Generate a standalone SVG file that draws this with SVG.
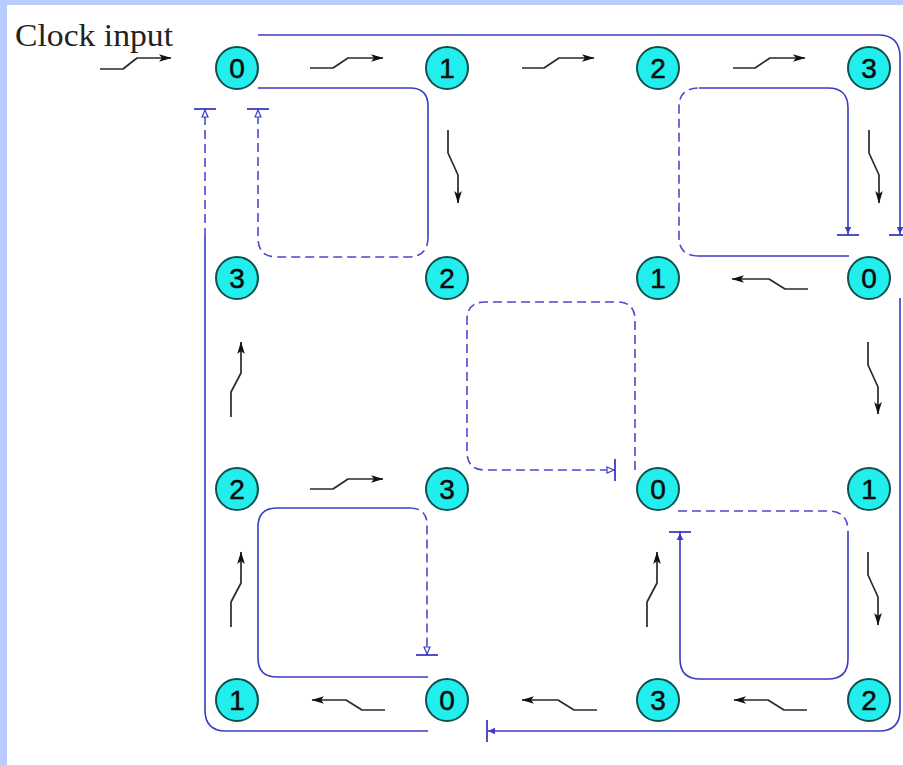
<svg xmlns="http://www.w3.org/2000/svg" width="903" height="765" viewBox="0 0 903 765">
<style>
  .bg { fill: #b8ccff; }
  .paper { fill: #ffffff; }
  .node circle { fill: #22eeee; stroke: #124f4f; stroke-width: 2; }
  .node text { font-family: "Liberation Sans", Arial, sans-serif; font-size: 28px; fill: #0a0a0a; stroke: #0a0a0a; stroke-width: 0.5; text-anchor: middle; }
  .solid { fill: none; stroke: #3b3bc4; stroke-width: 1.6; }
  .dash { fill: none; stroke: #4a4acc; stroke-width: 1.6; stroke-dasharray: 9 5; }
  .sw { fill: none; stroke: #2a2a2a; stroke-width: 1.7; stroke-linejoin: round; }
  .label { font-family: "Liberation Serif", "Times New Roman", serif; font-size: 31px; fill: #222; }
</style>
<defs>
  <marker id="teeSolid" viewBox="0 -12 11 24" refX="10" refY="0" markerWidth="11" markerHeight="24" markerUnits="userSpaceOnUse" orient="auto">
    <path d="M2,-3.2 L9,0 L2,3.2 z" fill="#3b3bc4"/>
    <path d="M10,-11 V11" stroke="#3b3bc4" stroke-width="1.8" fill="none"/>
  </marker>
  <marker id="teeOpen" viewBox="0 -12 11 24" refX="10" refY="0" markerWidth="11" markerHeight="24" markerUnits="userSpaceOnUse" orient="auto">
    <path d="M2,-3 L9,0 L2,3 z" fill="#ffffff" stroke="#3b3bc4" stroke-width="1.2"/>
    <path d="M10,-11 V11" stroke="#3b3bc4" stroke-width="1.8" fill="none"/>
  </marker>
  <marker id="blk" viewBox="0 -4 13 8" refX="12" refY="0" markerWidth="13" markerHeight="8" markerUnits="userSpaceOnUse" orient="auto">
    <path d="M0,-3.8 L12.5,0 L0,3.8 L3,0 z" fill="#111"/>
  </marker>
</defs>

<rect class="bg" x="0" y="0" width="903" height="765"/>
<rect class="paper" x="7" y="5" width="896" height="760"/>

<text class="label" x="15" y="46" textLength="158" lengthAdjust="spacingAndGlyphs">Clock input</text>

<g id="connectors">
  <!-- outer loop -->
  <path class="solid" d="M258,35 H878 Q900,35 900,57 V235" marker-end="url(#teeSolid)"/>
  <path class="solid" d="M900,298 V710 Q900,731 879,731 H487" marker-end="url(#teeSolid)"/>
  <path class="solid" d="M428,731 H226 Q205,731 205,710 V237"/>
  <path class="dash" d="M205,237 V109" marker-end="url(#teeOpen)"/>
  <!-- top-left loop -->
  <path class="solid" d="M258,88 H410 Q428,88 428,106 V237"/>
  <path class="dash" d="M428,237 Q428,257 408,257 H277 Q258,257 258,238 V109" marker-end="url(#teeOpen)"/>
  <!-- top-right loop -->
  <path class="solid" d="M849,256 H698"/>
  <path class="dash" d="M698,256 Q679,256 679,237 V107 Q679,88 699,88"/>
  <path class="solid" d="M699,88 H828 Q848,88 848,108 V235" marker-end="url(#teeSolid)"/>
  <!-- centre loop -->
  <path class="dash" d="M635,470 V320 Q635,302 617,302 H485 Q467,302 467,320 V452 Q467,470 485,470 H615" marker-end="url(#teeOpen)"/>
  <!-- bottom-right loop -->
  <path class="dash" d="M678,511 H828 Q848,511 848,531"/>
  <path class="solid" d="M848,531 V659 Q848,679 828,679 H700 Q680,679 680,659 V532" marker-end="url(#teeSolid)"/>
  <!-- bottom-left loop -->
  <path class="solid" d="M428,677 H277 Q258,677 258,658 V527 Q258,508 277,508 H410"/>
  <path class="dash" d="M410,508 Q427,508 427,525 V655" marker-end="url(#teeOpen)"/>

  <!-- clock / switch arrows -->
  <path class="sw" d="M100,69 H123 L137,58 H171" marker-end="url(#blk)"/>
  <path class="sw" d="M310,68 H333 L348,58 H383" marker-end="url(#blk)"/>
  <path class="sw" d="M522,68 H544 L559,58 H594" marker-end="url(#blk)"/>
  <path class="sw" d="M733,68 H755 L770,58 H805" marker-end="url(#blk)"/>
  <path class="sw" d="M310,489 H333 L348,479 H383" marker-end="url(#blk)"/>

  <path class="sw" d="M808,289 H785 L769,279 H732" marker-end="url(#blk)"/>
  <path class="sw" d="M385,710 H362 L346,700 H312" marker-end="url(#blk)"/>
  <path class="sw" d="M597,710 H574 L558,700 H522" marker-end="url(#blk)"/>
  <path class="sw" d="M807,710 H784 L768,700 H734" marker-end="url(#blk)"/>

  <path class="sw" d="M448,130 V153 L458,175 V203" marker-end="url(#blk)"/>
  <path class="sw" d="M869,130 V153 L879,175 V203" marker-end="url(#blk)"/>
  <path class="sw" d="M868,342 V365 L878,387 V414" marker-end="url(#blk)"/>
  <path class="sw" d="M868,552 V575 L878,597 V625" marker-end="url(#blk)"/>

  <path class="sw" d="M231,417 V392 L241,373 V342" marker-end="url(#blk)"/>
  <path class="sw" d="M231,627 V602 L241,583 V552" marker-end="url(#blk)"/>
  <path class="sw" d="M647,627 V602 L657,583 V552" marker-end="url(#blk)"/>
</g>

<g id="node-r1c1" class="node"><circle cx="237" cy="68" r="21"/><text x="237" y="78">0</text></g>
<g id="node-r1c2" class="node"><circle cx="447" cy="68" r="21"/><text x="447" y="78">1</text></g>
<g id="node-r1c3" class="node"><circle cx="658" cy="68" r="21"/><text x="658" y="78">2</text></g>
<g id="node-r1c4" class="node"><circle cx="869" cy="68" r="21"/><text x="869" y="78">3</text></g>

<g id="node-r2c1" class="node"><circle cx="237" cy="278" r="21"/><text x="237" y="288">3</text></g>
<g id="node-r2c2" class="node"><circle cx="447" cy="278" r="21"/><text x="447" y="288">2</text></g>
<g id="node-r2c3" class="node"><circle cx="658" cy="278" r="21"/><text x="658" y="288">1</text></g>
<g id="node-r2c4" class="node"><circle cx="869" cy="278" r="21"/><text x="869" y="288">0</text></g>

<g id="node-r3c1" class="node"><circle cx="237" cy="489" r="21"/><text x="237" y="499">2</text></g>
<g id="node-r3c2" class="node"><circle cx="447" cy="489" r="21"/><text x="447" y="499">3</text></g>
<g id="node-r3c3" class="node"><circle cx="658" cy="489" r="21"/><text x="658" y="499">0</text></g>
<g id="node-r3c4" class="node"><circle cx="869" cy="489" r="21"/><text x="869" y="499">1</text></g>

<g id="node-r4c1" class="node"><circle cx="237" cy="700" r="21"/><text x="237" y="710">1</text></g>
<g id="node-r4c2" class="node"><circle cx="447" cy="700" r="21"/><text x="447" y="710">0</text></g>
<g id="node-r4c3" class="node"><circle cx="658" cy="700" r="21"/><text x="658" y="710">3</text></g>
<g id="node-r4c4" class="node"><circle cx="869" cy="700" r="21"/><text x="869" y="710">2</text></g>
</svg>
